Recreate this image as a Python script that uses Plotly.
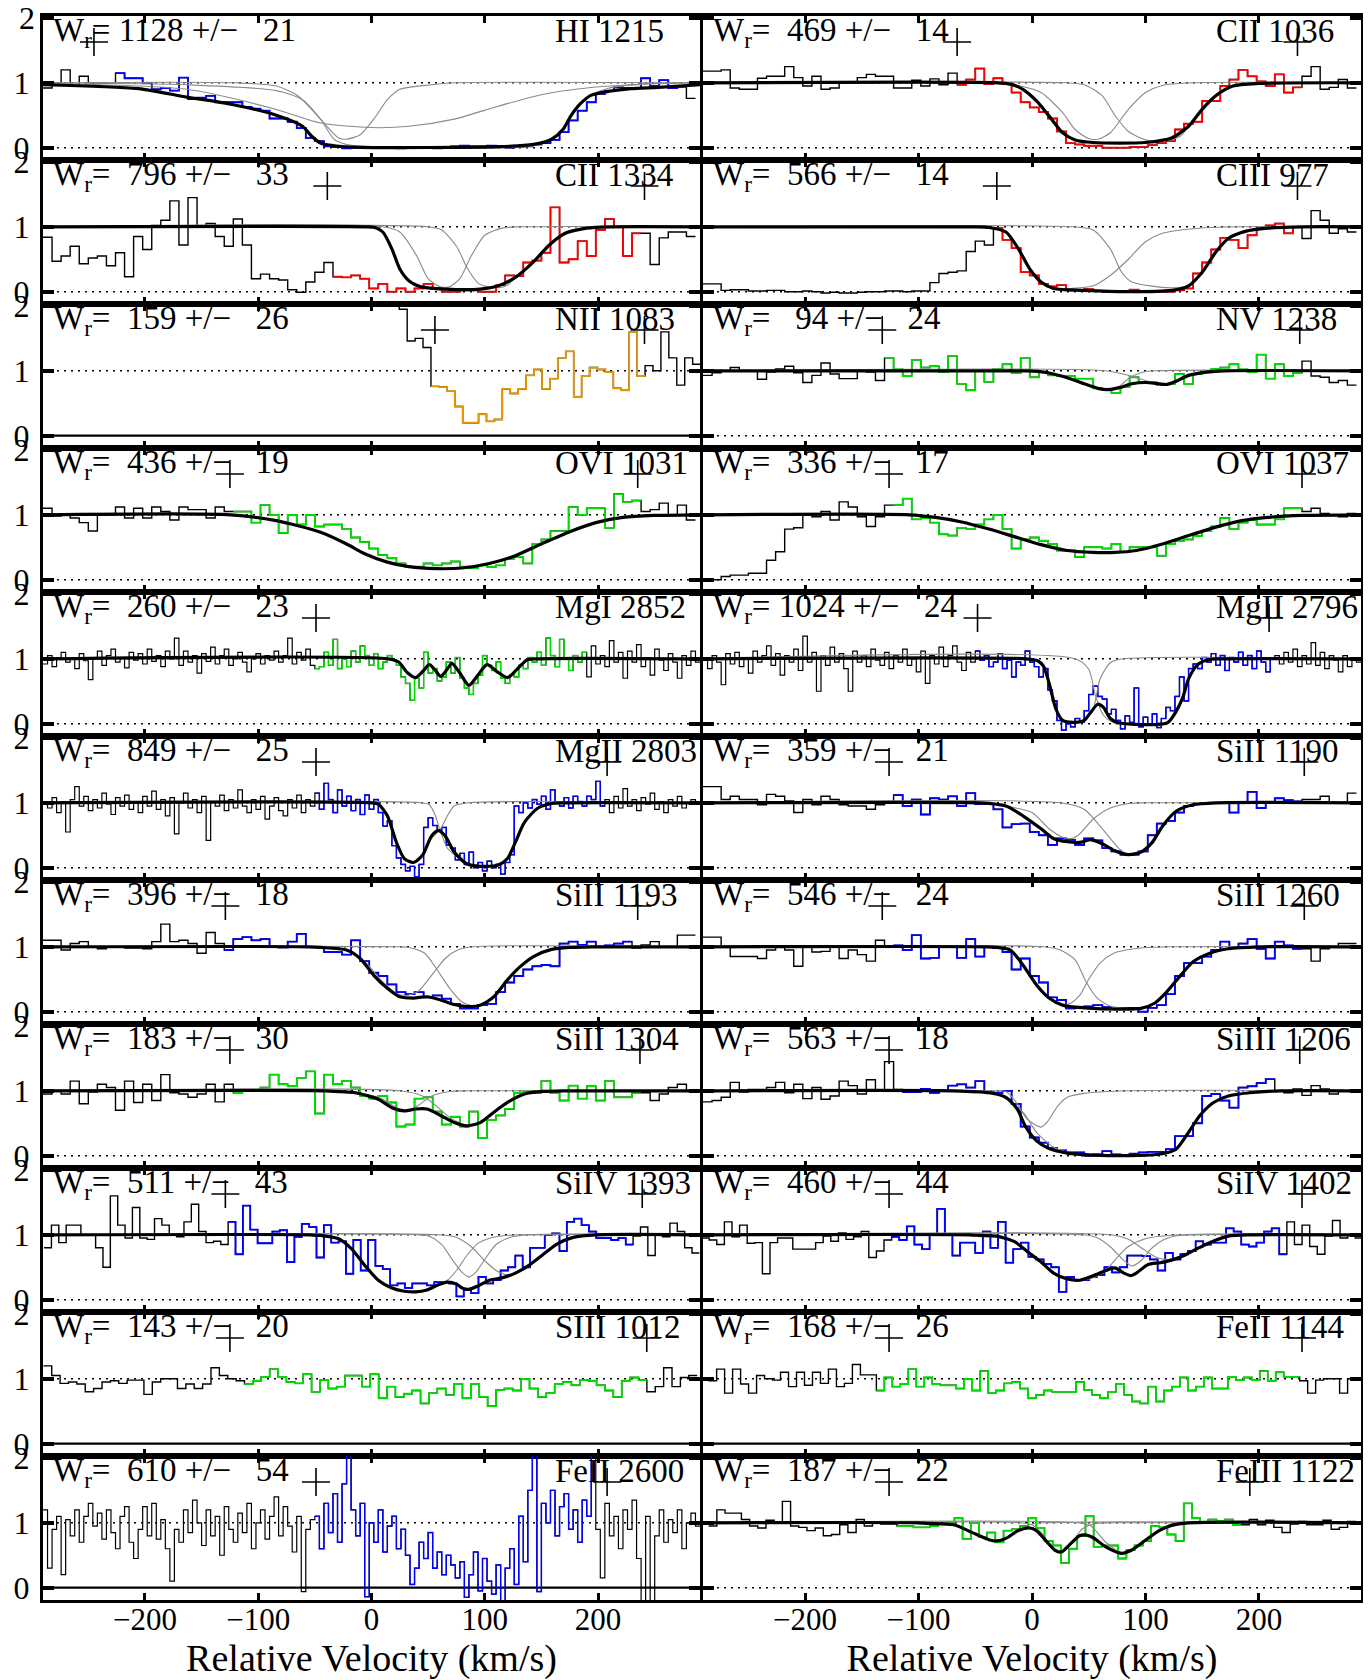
import plotly.graph_objects as go

FONT = "Liberation Serif, Times New Roman, serif"
BLUE = "#0000ff"; RED = "#ff0000"; GREEN = "#00dd00"; ORANGE = "#e69a00"; GRAY = "#8a8a8a"

V_RANGE = [-290, 290]
F_RANGE = [-0.19, 2.03]
TICK_V = [-200, -100, 0, 100, 200]
TICK_F = [0, 1, 2]
XTITLE = "Relative Velocity (km/s)"

# ---------------- panel data: (first bin centre, bin width) in km/s ----------------
hi1215_grid = (-286, 8)
hi1215_flux = [0.92,1.0,1.2,0.95,1.1,1.0,1.0,1.0, 1.15,1.07,1.07,1.0,0.9,0.92,0.88,1.08,
               0.75,0.77,0.8,0.7,0.7,0.7,0.63,0.6, 0.57,0.45,0.45,0.4,0.3,0.15,0.1,0.02,
               0.01,-0.01,0.0,0.0,0.0,0.01,0.0,-0.01, 0.0,0.01,0.0,-0.01,0.0,0.02,0.03,0.02,
               0.02,0.03,0.02,0.0,0.01,0.02,0.05,0.07, 0.12,0.24,0.42,0.57,0.7,0.83,0.88,0.93,
               0.92,0.92,1.07,0.95,1.04,0.92,0.94,0.76]
hi1215_fit = [[-290,0.97],[-206,0.91],[-163,0.78],[-124,0.67],[-84,0.5],[-61,0.33],[-53,0.18],[-45,0.07],
              [-33,0.03],[-10,0.005],[112,0.015],[143,0.05],[159,0.13],[169,0.28],[176,0.49],[184,0.67],
              [194,0.81],[210,0.87],[229,0.91],[253,0.93],[290,0.97]]
hi1215_comps = [
    [[-290,0.99],[-163,0.9],[-84,0.59],[-45,0.38],[0,0.31],[33,0.33],[73,0.44],[112,0.64],[151,0.82],[190,0.92],[229,0.97],[290,1.0]],
    [[-290,1],[-120,1],[-84,0.95],[-65,0.8],[-45,0.44],[-29,0.15],[-22,0.13],[-10,0.2],[2,0.44],[14,0.74],[25,0.9],[53,0.97],[73,1.0],[290,1]],
    [[-290,1],[-163,0.97],[-84,0.88],[-61,0.74],[-45,0.44],[-33,0.13],[-22,0.05],[-6,0.02],[140,0.02],[159,0.13],[169,0.28],[176,0.49],[184,0.67],[194,0.81],[210,0.92],[240,0.98],[290,1]],
]
hi1215_plus = [-245]

cii1036_grid = (-286, 8)
cii1036_flux = [1.18,1.18,1.2,0.92,0.9,0.9,1.07,1.1, 1.1,1.25,1.08,0.95,1.1,0.9,0.92,1.0,
                1.0,1.08,1.13,1.1,1.1,0.92,0.92,1.04, 0.95,1.06,0.97,1.15,0.97,1.05,1.22,0.98,
                1.07,0.98,0.85,0.7,0.62,0.55,0.45,0.25, 0.07,0.05,0.03,0.03,0.0,0.0,0.0,0.01,
                0.01,0.04,0.07,0.1,0.28,0.37,0.4,0.72, 0.72,0.95,1.05,1.2,1.1,1.02,0.95,1.13,
                0.85,0.93,1.1,1.25,0.9,0.93,1.05,0.92]
cii1036_fit = [[-290,1],[-30,1],[-19,0.98],[-8,0.9],[4,0.72],[15,0.49],[27,0.23],[38,0.12],[54,0.08],[77,0.07],
               [100,0.08],[123,0.15],[138,0.33],[150,0.59],[162,0.8],[177,0.95],[200,0.99],[290,1]]
cii1036_comps = [
    [[-290,1],[-31,1],[-10,0.95],[8,0.85],[27,0.54],[38,0.28],[50,0.14],[58,0.13],[69,0.23],[85,0.59],[100,0.85],[115,0.96],[142,1],[290,1]],
    [[-290,1],[30,1],[46,0.97],[62,0.8],[73,0.5],[85,0.25],[100,0.12],[115,0.1],[131,0.18],[142,0.44],[154,0.69],[169,0.9],[192,0.99],[290,1]],
]
cii1036_plus = [-66, 234]

cii1334_grid = (-286, 8)
cii1334_flux = [0.84,0.47,0.55,0.7,0.43,0.52,0.55,0.4, 0.6,0.23,0.85,0.65,1.02,1.1,1.4,0.72,
                1.45,1.0,1.05,0.85,0.7,1.12,0.72,0.2, 0.27,0.2,0.18,0.03,-0.01,0.15,0.3,0.45,
                0.23,0.22,0.25,0.2,0.05,0.12,0.0,0.05, 0.0,0.05,0.12,0.05,0.0,0.0,0.02,0.02,
                0.0,0.0,0.1,0.25,0.24,0.45,0.48,0.6, 1.3,0.45,0.5,0.78,0.55,0.95,1.12,1.0,
                0.55,0.9,0.9,0.42,0.83,0.92,0.92,0.85]
cii1334_fit = [[-290,1],[-5,1],[3,0.99],[10,0.92],[18,0.66],[25,0.35],[33,0.17],[45,0.07],[65,0.04],[96,0.04],
               [112,0.09],[127,0.22],[143,0.46],[157,0.72],[171,0.9],[190,0.98],[210,1],[290,1]]
cii1334_comps = [
    [[-290,1],[10,1],[25,0.92],[40,0.55],[50,0.2],[60,0.08],[68,0.07],[78,0.2],[88,0.55],[100,0.87],[115,0.98],[130,1],[290,1]],
    [[-290,1],[50,1],[62,0.95],[75,0.7],[85,0.35],[95,0.12],[110,0.06],[120,0.1],[127,0.22],[143,0.46],[157,0.72],[171,0.9],[190,0.98],[210,1],[290,1]],
]
cii1334_plus = [-39, 241]

ciii977_grid = (-286, 8)
ciii977_flux = [0.12,0.12,0.02,0.03,0.03,0.01,0.01,0.02, 0.02,0.0,0.0,0.01,0.0,-0.02,-0.01,-0.02,
                -0.02,-0.01,0.0,0.0,0.01,0.01,0.0,0.01, 0.01,0.14,0.28,0.3,0.32,0.62,0.78,0.72,
                0.98,0.8,0.67,0.3,0.25,0.12,0.08,0.1, 0.02,0.02,0.04,0.01,0.0,0.0,0.0,0.03,
                0.0,0.0,0.0,0.0,0.02,0.05,0.28,0.45, 0.65,0.83,0.8,0.67,0.87,0.98,1.02,1.05,
                0.9,1.0,0.82,1.25,1.1,0.9,0.97,0.92]
ciii977_fit = [[-290,1],[-50,1],[-38,0.99],[-23,0.92],[-12,0.66],[-2,0.35],[8,0.15],[19,0.05],[46,0.02],[85,0.0],
               [123,0.02],[138,0.09],[150,0.3],[162,0.61],[173,0.82],[188,0.93],[208,0.98],[238,1],[290,1]]
ciii977_comps = [
    [[-290,1],[35,1],[54,0.95],[69,0.66],[79,0.3],[88,0.15],[104,0.09],[123,0.06],[138,0.09],[150,0.3],[162,0.61],[173,0.82],[188,0.93],[208,0.98],[238,1],[290,1]],
    [[-290,1],[-50,1],[-38,0.99],[-23,0.92],[-12,0.66],[-2,0.35],[8,0.15],[19,0.05],[35,0.05],[54,0.09],[69,0.25],[85,0.5],[100,0.77],[115,0.9],[142,0.97],[181,1],[290,1]],
]
ciii977_plus = [-31, 234]

nii1083_grid = (21, 7)
nii1083_flux = [2.5,1.95,1.46,1.5,1.36,0.76,0.75,0.69,0.45,0.2,0.2,0.33,0.22,0.25,0.72,0.65,0.72,0.93,1.02,
                0.72,0.88,1.2,1.3,0.6,0.92,1.05,1.02,0.98,0.73,0.7,1.6,0.92,1.08,1.0,1.6,1.2,0.78,1.2,1.1]
nii1083_plus = [56, 241]

nv1238_grid = (-286, 8)
nv1238_flux = [0.93,0.97,1.0,1.05,1.0,1.0,0.87,0.98, 1.03,1.07,0.97,0.82,0.93,1.12,0.95,0.88,
               0.88,1.0,0.98,0.85,1.2,1.02,0.92,1.17, 1.05,1.07,0.98,1.23,0.8,0.7,1.0,0.83,
               1.03,1.1,0.97,1.2,0.9,0.98,0.93,0.92, 0.92,0.88,0.88,0.73,0.72,0.66,0.75,0.9,
               0.83,0.82,0.78,0.8,0.95,0.8,0.95,1.0, 1.03,1.05,1.1,1.02,0.98,1.25,0.88,1.1,
               0.92,0.97,1.15,0.92,0.9,0.82,0.85,0.78]
nv1238_fit = [[-290,1],[-5,1],[5,0.99],[19,0.95],[35,0.87],[46,0.8],[58,0.73],[67,0.71],[77,0.74],[88,0.8],[100,0.82],
              [112,0.8],[119,0.79],[127,0.84],[138,0.93],[154,0.98],[169,1],[290,1]]
nv1238_comps = [
    [[-290,1],[-5,1],[5,0.99],[19,0.95],[35,0.87],[46,0.8],[58,0.73],[67,0.71],[77,0.76],[85,0.88],[96,0.97],[108,1],[290,1]],
    [[-290,1],[65,1],[85,0.93],[100,0.85],[112,0.8],[119,0.79],[127,0.84],[138,0.93],[154,0.98],[169,1],[290,1]],
]
nv1238_plus = [-132, 236]

ovi1031_grid = (-286, 8)
ovi1031_flux = [1.1,0.98,1.0,0.95,0.88,0.75,1.0,1.0, 1.12,0.95,1.1,0.95,1.12,1.05,0.92,1.12,
                1.08,1.08,0.95,1.12,1.05,1.05,1.05,0.88, 1.15,1.0,0.72,1.0,0.85,1.0,0.82,0.85,
                0.85,0.78,0.65,0.58,0.48,0.38,0.33,0.25, 0.2,0.2,0.25,0.22,0.25,0.28,0.2,0.18,
                0.22,0.2,0.22,0.32,0.35,0.25,0.55,0.62, 0.75,0.75,1.12,1.0,1.1,1.1,0.8,1.32,
                1.2,1.22,1.05,1.08,1.18,1.0,1.15,0.92]
ovi1031_fit = [[-290,1],[-124,1],[-84,0.91],[-45,0.73],[-22,0.55],[-6,0.4],[14,0.27],[33,0.2],[57,0.17],[80,0.18],
               [104,0.25],[127,0.37],[151,0.56],[175,0.74],[198,0.88],[222,0.96],[249,0.99],[290,1]]
ovi1031_comps = []
ovi1031_plus = [-125, 235]

ovi1037_grid = (-286, 8)
ovi1037_flux = [0.0,0.0,0.05,0.07,0.07,0.1,0.1,0.3, 0.43,0.78,0.8,1.0,0.97,1.05,0.92,1.2,
                1.12,0.97,0.82,0.97,1.15,1.15,1.25,0.93, 0.95,0.88,0.7,0.68,0.8,0.78,0.85,0.93,
                1.0,0.78,0.48,0.62,0.65,0.6,0.55,0.45, 0.45,0.35,0.5,0.5,0.48,0.55,0.43,0.5,
                0.5,0.5,0.37,0.55,0.6,0.62,0.67,0.75, 0.82,0.95,0.78,0.88,0.92,0.85,0.85,0.93,
                1.1,1.1,1.05,1.1,1.02,1.0,0.97,1.02]
ovi1037_fit = [[-290,1],[-108,1],[-85,0.96],[-62,0.89],[-38,0.78],[-15,0.66],[8,0.54],[31,0.45],[54,0.42],[73,0.42],
               [92,0.45],[115,0.55],[138,0.68],[162,0.81],[185,0.91],[208,0.96],[238,0.99],[290,1]]
ovi1037_comps = []
ovi1037_plus = [-126, 238]

mgi2852_grid = (-288, 4)
mgi2852_flux = [0.92,1.05,0.88,1.02,1.1,0.95,1.0,0.85,1.08,0.97,
                0.68,1.02,1.12,0.9,1.05,1.15,0.95,1.02,0.86,1.1,
                0.98,1.08,0.92,1.15,0.96,1.05,0.88,1.12,1.0,1.32,
                0.9,1.12,0.95,1.05,0.78,1.08,0.96,1.18,0.92,1.05,
                1.15,0.9,1.0,1.1,0.95,0.8,1.0,1.08,0.92,1.05,
                0.98,1.12,0.95,1.05,1.32,0.92,1.1,0.98,1.15,0.9,
                0.85,0.88,1.1,0.9,1.3,0.85,1.0,0.88,1.12,0.95,
                1.2,1.05,0.9,1.08,0.85,0.95,1.05,0.98,0.9,0.72,
                0.62,0.36,0.7,0.55,1.1,0.78,0.85,0.66,0.72,0.95,
                0.78,1.02,0.7,0.55,0.45,0.62,0.75,1.05,0.9,0.82,
                0.95,0.7,0.62,0.75,0.72,0.9,0.85,1.02,0.95,1.1,
                0.9,1.32,1.05,0.88,1.3,1.0,0.82,1.05,0.95,1.1,
                0.72,1.2,0.92,1.05,0.88,1.28,0.95,1.1,0.7,1.12,
                0.95,1.22,0.88,1.02,0.75,1.15,0.98,0.82,1.08,0.95,
                0.7,1.05,0.9,1.12,0.95]
mgi2852_fit = [[-290,1],[15,1],[24,0.95],[32,0.78],[39,0.71],[45,0.8],[51,0.91],[56,0.83],[61,0.73],[66,0.82],
               [71,0.93],[78,0.78],[86,0.59],[94,0.75],[102,0.91],[111,0.8],[120,0.71],[128,0.83],[137,0.98],[145,1],[290,1]]
mgi2852_comps = []
mgi2852_plus = [-49]

mgii2796_grid = (-288, 4)
mgii2796_flux = [1.0,0.85,1.05,0.95,0.6,1.08,0.92,1.1,0.88,1.02,
                 0.78,1.12,0.95,1.05,1.2,0.9,1.08,0.75,1.05,0.95,
                 1.15,0.82,1.35,0.95,1.1,0.5,1.05,0.9,1.18,0.95,
                 1.08,0.85,0.5,1.12,0.95,1.05,0.88,1.15,0.98,0.9,
                 1.1,0.85,1.05,0.95,1.15,0.9,1.0,0.8,1.12,0.62,
                 1.05,0.92,1.18,0.88,1.05,1.2,0.95,0.82,1.1,0.95,
                 1.12,0.98,1.05,0.88,0.95,1.08,0.85,0.98,0.72,0.95,
                 0.9,1.12,0.95,0.88,0.72,0.85,0.52,0.35,0.05,-0.1,
                 0.0,-0.05,0.08,0.02,0.2,0.45,0.58,0.42,0.38,0.15,
                 0.22,0.05,-0.08,0.12,0.02,0.55,-0.05,0.1,0.0,0.15,
                 -0.06,0.08,0.25,0.2,0.42,0.72,0.35,0.85,0.92,0.85,
                 1.02,0.95,1.08,0.9,1.05,0.82,1.02,0.95,1.1,0.9,
                 1.05,0.85,1.12,0.95,0.8,1.0,1.05,0.92,1.1,0.95,
                 1.15,0.88,1.05,0.92,1.25,0.9,1.1,0.85,1.05,0.98,
                 0.8,1.05,0.88,1.0,0.95]
mgii2796_fit = [[-290,1],[-5,1],[5,0.97],[10,0.89],[15,0.63],[21,0.23],[27,0.05],[38,0.02],[46,0.05],[52,0.18],
                [58,0.3],[63,0.25],[69,0.08],[77,0.01],[119,0.01],[125,0.13],[133,0.41],[138,0.69],[146,0.91],
                [156,0.99],[165,1],[290,1]]
mgii2796_comps = [
    [[-290,1],[-5,1],[5,0.97],[10,0.89],[15,0.63],[21,0.23],[27,0.05],[38,0.02],[46,0.06],[54,0.23],[60,0.69],[69,0.94],[80,1],[290,1]],
    [[-290,1],[38,1],[50,0.84],[56,0.43],[63,0.13],[73,0.01],[119,0.01],[125,0.13],[133,0.41],[138,0.69],[146,0.91],[156,0.99],[165,1],[290,1]],
]
mgii2796_plus = [-48, 209]

mgii2803_grid = (-288, 4)
mgii2803_flux = [1.0,0.92,1.08,0.85,1.02,0.55,1.05,1.25,0.95,1.1,
                 0.88,1.05,0.92,1.15,0.98,0.82,1.08,0.95,1.12,0.9,
                 1.02,0.85,1.1,0.95,1.18,0.9,1.05,0.8,1.08,0.52,
                 1.0,1.15,0.92,1.05,0.85,1.1,0.42,1.02,0.95,1.12,
                 0.88,1.05,0.92,1.2,0.95,0.85,1.05,0.9,1.1,0.75,
                 0.95,1.08,0.88,0.8,1.05,0.92,1.12,0.85,1.05,0.95,
                 1.15,0.9,1.3,1.05,0.85,1.2,0.95,1.1,0.88,1.05,
                 0.82,1.12,0.9,1.05,0.85,0.64,0.72,0.34,0.15,0.05,
                 -0.05,0.02,-0.14,0.05,0.62,0.77,0.65,0.58,0.62,0.35,
                 0.3,0.12,0.22,0.05,0.24,0.0,0.08,-0.05,0.1,0.0,
                 0.05,-0.1,0.08,0.2,0.95,0.85,1.0,0.92,1.05,0.98,
                 1.1,0.9,1.2,1.0,0.95,1.08,0.92,1.1,1.02,0.95,
                 1.1,1.05,1.33,0.95,1.05,0.85,1.1,0.92,1.22,0.95,
                 1.05,0.88,1.08,0.98,1.15,0.9,1.02,0.85,1.05,0.95,
                 1.1,0.92,1.0,1.05,1.02]
mgii2803_fit = [[-290,1],[0,1],[6,0.98],[14,0.8],[22,0.39],[29,0.14],[37,0.08],[45,0.19],[53,0.49],[59,0.57],[65,0.49],
                [73,0.24],[84,0.06],[96,0.02],[112,0.04],[120,0.14],[127,0.39],[135,0.7],[147,0.92],[159,0.99],[170,1],[290,1]]
mgii2803_comps = [
    [[-290,1],[0,1],[6,0.98],[14,0.8],[22,0.39],[29,0.14],[37,0.08],[45,0.19],[53,0.45],[61,0.6],[67,0.8],[73,0.95],[85,1],[290,1]],
    [[-290,1],[45,1],[51,0.97],[56,0.82],[61,0.55],[67,0.3],[73,0.2],[84,0.06],[96,0.02],[112,0.04],[120,0.14],[127,0.39],[135,0.7],[147,0.92],[159,0.99],[170,1],[290,1]],
]
mgii2803_plus = [-49, 208]

siii1190_grid = (-286, 8)
siii1190_flux = [1.25,1.25,1.05,1.1,1.05,1.05,0.97,1.13, 1.1,1.03,0.85,1.05,0.97,1.1,1.05,0.97,
                 0.95,0.95,0.9,0.97,1.0,1.12,0.95,1.05, 0.82,1.07,1.05,1.1,0.95,1.15,0.98,0.98,
                 0.9,0.62,0.67,0.68,0.55,0.5,0.35,0.45, 0.43,0.35,0.45,0.42,0.3,0.25,0.2,0.2,
                 0.25,0.5,0.68,0.72,0.85,0.95,0.98,1.0, 1.0,1.0,0.85,1.0,1.17,0.92,1.0,1.07,
                 1.04,1.02,1.05,1.05,1.1,1.0,1.0,1.15]
siii1190_fit = [[-290,1],[-45,1],[-38,0.99],[-23,0.95],[-8,0.8],[8,0.6],[19,0.45],[31,0.4],[42,0.39],[52,0.43],
                [62,0.37],[73,0.26],[85,0.2],[96,0.24],[106,0.39],[115,0.64],[127,0.87],[142,0.97],[162,1],[290,1]]
siii1190_comps = [
    [[-290,1],[-45,1],[-38,0.99],[-23,0.95],[0,0.85],[15,0.6],[27,0.47],[35,0.45],[42,0.52],[54,0.75],[69,0.92],[85,0.99],[100,1],[290,1]],
    [[-290,1],[25,1],[46,0.9],[62,0.6],[77,0.29],[85,0.21],[96,0.24],[106,0.39],[115,0.64],[127,0.87],[142,0.97],[162,1],[290,1]],
]
siii1190_plus = [-126, 240]

siii1193_grid = (-286, 8)
siii1193_flux = [1.1,1.1,0.95,1.05,1.08,1.0,0.97,1.0, 1.0,0.98,0.98,0.97,1.08,1.35,1.08,1.1,
                 1.05,0.9,1.22,1.05,0.95,1.12,1.15,1.1, 1.12,1.0,0.99,1.08,1.2,1.0,1.0,0.92,
                 0.92,0.88,1.1,0.78,0.6,0.55,0.42,0.3, 0.27,0.3,0.22,0.25,0.2,0.12,0.05,0.05,
                 0.1,0.12,0.3,0.45,0.55,0.65,0.7,0.72, 0.7,1.05,1.08,1.03,1.08,1.0,1.02,1.05,
                 1.08,0.98,1.03,1.08,1.0,1.0,1.18,1.18]
siii1193_fit = [[-290,1],[-55,1],[-45,0.99],[-22,0.95],[-10,0.82],[2,0.56],[14,0.36],[25,0.23],[37,0.21],[49,0.23],
                [61,0.18],[73,0.11],[84,0.08],[96,0.1],[108,0.23],[120,0.49],[131,0.69],[143,0.85],[159,0.96],
                [175,0.99],[195,1],[290,1]]
siii1193_comps = [
    [[-290,1],[-55,1],[-45,0.99],[-22,0.95],[-6,0.77],[10,0.46],[22,0.28],[31,0.25],[41,0.31],[53,0.56],[65,0.82],[76,0.95],[90,1],[290,1]],
    [[-290,1],[25,1],[33,0.99],[47,0.9],[57,0.67],[69,0.36],[80,0.15],[90,0.09],[96,0.1],[108,0.23],[120,0.49],[131,0.69],[143,0.85],[159,0.96],[175,0.99],[195,1],[290,1]],
]
siii1193_plus = [-129, 235]

siii1260_grid = (-286, 8)
siii1260_flux = [1.15,1.15,1.0,0.85,0.85,0.85,0.82,0.95, 1.0,0.95,0.7,1.0,0.92,0.93,1.0,0.82,
                 0.95,0.88,0.78,1.1,1.0,1.02,0.95,1.18, 0.82,0.83,1.0,1.0,0.83,1.12,0.85,1.0,
                 0.98,0.92,0.65,0.82,0.55,0.45,0.22,0.18, 0.05,0.06,0.08,0.1,0.07,0.04,0.06,0.06,
                 0.0,0.06,0.1,0.27,0.55,0.75,0.75,0.85, 0.95,1.08,1.0,1.05,1.12,0.97,0.82,1.08,
                 1.02,0.97,0.97,0.78,0.97,1.0,1.05,1.05]
siii1260_fit = [[-290,1],[-40,1],[-31,0.99],[-19,0.95],[-8,0.72],[4,0.41],[15,0.21],[27,0.1],[46,0.06],[77,0.04],
                [96,0.05],[108,0.13],[119,0.31],[131,0.56],[142,0.77],[158,0.91],[173,0.97],[200,1],[290,1]]
siii1260_comps = [
    [[-290,1],[-40,1],[-31,0.99],[-19,0.95],[-8,0.72],[4,0.42],[15,0.22],[25,0.13],[33,0.12],[42,0.25],[50,0.5],[60,0.75],[72,0.9],[90,0.97],[120,1],[290,1]],
    [[-290,1],[10,1],[25,0.95],[38,0.8],[48,0.45],[58,0.2],[70,0.08],[85,0.05],[96,0.05],[108,0.13],[119,0.31],[131,0.56],[142,0.77],[158,0.91],[173,0.97],[200,1],[290,1]],
]
siii1260_plus = [-132, 240]

siii1304_grid = (-286, 8)
siii1304_flux = [0.95,1.0,0.95,1.15,0.8,0.98,1.1,1.05, 0.7,1.15,0.82,1.1,0.85,1.25,0.97,0.95,
                 0.9,0.95,1.1,0.83,1.1,0.97,1.0,1.0, 1.05,1.25,1.1,1.07,1.2,1.3,0.65,1.25,
                 1.1,1.15,1.05,0.92,0.88,0.92,0.82,0.45, 0.48,0.88,0.9,0.68,0.48,0.6,0.45,0.68,
                 0.27,0.55,0.62,0.72,0.97,1.0,0.97,1.15, 0.97,0.85,1.08,0.88,1.07,0.85,1.15,0.9,
                 0.9,0.97,0.97,0.85,0.95,1.05,1.1,1.0]
siii1304_fit = [[-290,1],[-40,1],[-33,0.99],[-14,0.97],[6,0.87],[18,0.74],[29,0.69],[39,0.72],[49,0.72],[61,0.62],
                [73,0.51],[84,0.46],[96,0.51],[108,0.67],[120,0.82],[135,0.95],[151,0.99],[170,1],[290,1]]
siii1304_comps = [
    [[-290,1],[-40,1],[-33,0.99],[6,0.9],[22,0.74],[31,0.69],[41,0.77],[53,0.92],[69,0.99],[85,1],[290,1]],
    [[-290,1],[25,1],[45,0.92],[57,0.77],[69,0.59],[80,0.49],[86,0.46],[96,0.51],[108,0.67],[120,0.82],[135,0.95],[151,0.99],[170,1],[290,1]],
]
siii1304_plus = [-125, 237]

siiii1206_grid = (-286, 8)
siiii1206_flux = [0.83,0.85,0.9,1.13,0.98,1.02,1.02,1.05, 1.13,0.97,1.1,0.88,1.05,0.87,0.92,1.15,
                  1.08,0.95,1.17,1.0,1.45,1.02,0.98,0.98, 1.03,0.97,1.0,1.08,1.1,1.05,1.15,0.98,
                  0.97,1.0,0.8,0.45,0.28,0.2,0.12,0.08, 0.05,0.05,0.0,0.02,0.07,0.02,0.01,0.03,
                  0.05,0.06,0.06,0.1,0.3,0.3,0.5,0.92, 0.95,0.85,0.74,1.05,1.07,1.12,1.18,1.0,
                  0.97,1.03,0.93,1.08,1.03,0.95,1.0,1.0]
siiii1206_fit = [[-290,1],[-69,1],[-38,0.97],[-23,0.9],[-13,0.72],[-6,0.46],[4,0.23],[15,0.11],[31,0.04],[54,0.01],
                 [85,0.0],[115,0.03],[127,0.1],[138,0.36],[148,0.62],[160,0.82],[173,0.92],[192,0.97],[219,1],[290,1]]
siiii1206_comps = [
    [[-290,1],[-30,1],[-23,0.99],[-15,0.85],[-4,0.56],[8,0.44],[13,0.51],[23,0.77],[31,0.9],[46,0.96],[85,1],[290,1]],
    [[-290,1],[-69,1],[-31,0.95],[-8,0.67],[4,0.36],[19,0.13],[35,0.04],[54,0.01],[85,0.0],[115,0.03],[127,0.1],[138,0.36],[148,0.62],[160,0.82],[173,0.92],[192,0.97],[219,1],[290,1]],
]
siiii1206_plus = [-126, 236]

siiv1393_grid = (-285.8, 6.5)
siiv1393_flux = [0.8,1.15,0.88,1.15,1.15,1.0,1.0,0.8,0.5,1.6,1.15,0.95,1.42,0.95,0.93,1.25,1.15,1.0,0.97,1.2,1.47,1.05,0.88,0.9,0.85,
                 1.2,0.7,1.45,1.08,0.87,0.87,1.05,1.07,0.58,0.97,1.17,1.12,0.65,1.15,0.88,0.9,0.4,0.92,0.45,0.92,
                 0.52,0.47,0.22,0.25,0.18,0.25,0.25,0.22,0.27,0.27,0.25,0.05,0.15,0.1,0.35,0.25,0.3,0.45,0.5,0.68,
                 0.5,0.8,0.8,1.0,1.02,0.75,1.2,1.25,1.15,1.05,0.95,0.95,0.92,0.95,0.85,
                 0.98,1.12,0.68,1.0,0.97,1.18,1.05,0.8,0.72]
siiv1393_fit = [[-290,1],[-55,1],[-45,0.99],[-29,0.94],[-18,0.79],[-6,0.53],[6,0.3],[18,0.18],[29,0.13],[39,0.12],[49,0.15],
                [59,0.23],[67,0.27],[75,0.24],[80,0.18],[86,0.16],[94,0.21],[104,0.3],[116,0.34],[127,0.41],[139,0.53],
                [151,0.69],[163,0.85],[178,0.96],[198,1],[290,1]]
siiv1393_comps = [
    [[-290,1],[-55,1],[-45,0.99],[-29,0.94],[-18,0.79],[-6,0.53],[6,0.3],[18,0.18],[29,0.13],[39,0.12],[49,0.15],[59,0.23],[67,0.3],[75,0.45],[85,0.7],[95,0.88],[110,0.97],[130,1],[290,1]],
    [[-290,1],[40,1],[52,0.97],[62,0.85],[72,0.6],[80,0.42],[86,0.35],[92,0.42],[100,0.62],[110,0.85],[122,0.96],[140,1],[290,1]],
    [[-290,1],[60,1],[75,0.96],[88,0.82],[100,0.6],[110,0.45],[120,0.38],[127,0.41],[139,0.53],[151,0.69],[163,0.85],[178,0.96],[198,1],[290,1]],
]
siiv1393_plus = [-129, 239]

siiv1402_grid = (-287.9, 6.7)
siiv1402_flux = [0.95,0.92,0.85,1.2,0.97,1.15,0.87,0.88,0.4,0.88,0.95,0.95,0.78,0.78,0.78,0.88,0.98,0.9,1.03,0.93,0.97,1.05,0.65,0.75,0.92,
                 0.97,0.92,1.13,0.85,0.78,1.0,1.4,1.0,0.68,0.88,0.88,0.72,1.05,0.8,1.2,0.57,0.78,0.88,0.66,0.62,
                 0.55,0.5,0.12,0.35,0.3,0.3,0.35,0.38,0.5,0.42,0.5,0.68,0.68,0.67,0.62,0.45,0.72,0.62,0.7,0.75,
                 0.9,0.85,0.88,0.88,1.1,1.05,0.85,0.82,0.88,1.05,1.1,0.7,
                 1.2,0.85,1.15,0.82,0.7,0.98,1.22,0.95,1.0,0.95]
siiv1402_fit = [[-290,1],[-55,1],[-46,0.99],[-31,0.98],[-15,0.89],[-4,0.74],[8,0.58],[19,0.41],[31,0.32],[42,0.3],[54,0.37],
                [65,0.45],[73,0.49],[81,0.41],[87,0.37],[92,0.41],[102,0.54],[113,0.57],[123,0.61],[135,0.69],[146,0.79],
                [158,0.89],[173,0.98],[192,1],[290,1]]
siiv1402_comps = [
    [[-290,1],[-55,1],[-46,0.99],[-31,0.98],[-15,0.89],[-4,0.74],[8,0.58],[19,0.41],[31,0.32],[42,0.3],[54,0.34],[65,0.45],[75,0.65],[85,0.82],[100,0.94],[120,0.99],[290,1]],
    [[-290,1],[45,1],[58,0.95],[70,0.8],[80,0.62],[88,0.52],[96,0.6],[106,0.8],[118,0.94],[135,1],[290,1]],
    [[-290,1],[70,1],[85,0.93],[98,0.78],[110,0.65],[120,0.62],[130,0.66],[146,0.79],[158,0.89],[173,0.98],[192,1],[290,1]],
]
siiv1402_plus = [-126, 238]

siii1012_grid = (-286, 7.4)
siii1012_flux = [1.2,1.05,0.93,0.95,0.92,0.8,0.85,0.95,0.97,0.93,0.98,0.98,0.76,0.95,1.0,1.0,0.85,0.92,0.85,0.92,1.17,1.05,1.0,0.97,
                 0.92,0.97,1.03,1.15,1.03,0.95,0.93,1.07,0.8,0.98,0.85,0.88,1.05,1.05,0.88,1.07,0.7,0.88,0.72,0.77,0.82,0.62,
                 0.78,0.85,0.75,0.92,0.7,0.92,0.72,0.58,0.83,0.85,0.82,1.0,0.85,0.72,0.78,0.92,0.95,0.9,0.98,0.97,0.9,0.82,
                 0.72,0.97,1.02,0.98,
                 0.8,0.88,1.17,0.88,1.02,1.05]
siii1012_plus = [-125, 243]

feii1144_grid = (-281.5, 7.04)
feii1144_flux = [0.97,1.15,0.78,1.15,0.92,0.78,1.05,1.0,0.98,1.1,0.88,1.1,0.9,1.1,0.93,1.15,0.88,0.93,1.22,1.06,1.06,
                 0.82,1.02,0.88,0.92,1.15,0.88,1.02,0.92,0.9,0.9,0.85,1.0,0.82,1.12,0.78,0.82,0.93,0.95,0.85,0.7,
                 0.75,0.82,0.8,0.8,0.8,0.95,0.83,0.75,0.7,0.8,0.92,0.75,0.65,0.62,0.88,0.65,0.82,0.88,1.02,0.82,
                 0.88,1.02,0.85,0.85,1.03,0.98,1.02,0.98,1.12,0.97,1.1,1.03,1.03,
                 0.97,0.78,0.98,1.0,1.0,0.78,1.0]
feii1144_plus = [-126, 238]

feii2600_grid = (-288, 4)
feii2600_flux = [1.2,0.3,0.9,1.1,0.2,1.05,0.8,1.2,0.7,1.1,
                 1.3,0.95,1.15,0.75,1.2,0.85,0.6,1.1,1.25,0.7,
                 0.45,0.9,1.25,0.8,1.3,0.75,1.05,0.6,0.1,0.9,
                 0.7,1.2,0.85,1.35,1.0,0.65,1.2,0.8,1.1,0.5,
                 1.25,0.9,0.7,1.15,0.85,1.3,0.6,1.0,1.2,0.75,
                 1.1,1.4,0.8,1.25,0.95,0.55,1.1,-0.06,0.9,1.05,
                 1.1,0.6,1.3,0.85,1.45,0.7,1.6,2.05,1.2,0.8,
                 1.3,-0.14,1.0,0.7,1.2,0.55,0.95,1.1,0.6,0.9,
                 0.5,0.05,0.3,0.7,0.45,0.85,0.3,0.55,0.2,0.5,
                 0.35,0.15,0.4,-0.15,0.2,0.55,-0.05,0.45,0.1,-0.1,
                 0.35,-0.2,0.3,0.6,0.05,1.1,0.4,1.5,2.05,-0.06,
                 1.3,1.0,1.5,0.8,1.25,1.45,0.9,1.2,0.7,1.35,
                 1.1,2.05,0.9,0.15,
                 1.3,0.8,1.1,0.6,1.2,0.9,1.35,0.45,-0.2,1.1,-0.2,0.8,1.2,0.7,1.05,0.85,1.2,0.6,1.0,1.15,0.95]
feii2600_plus = [-49, 208]

feiii1122_grid = (-281.4, 7.22)
feiii1122_flux = [0.95,1.2,1.15,1.15,1.05,0.95,0.92,1.04,1.0,1.33,0.95,0.93,0.88,0.92,0.8,0.82,0.97,0.85,1.05,0.95,1.0,0.98,0.98,
                  0.95,0.95,0.93,0.93,0.95,0.98,1.0,1.07,0.75,1.0,0.78,0.85,0.7,0.88,0.9,0.95,1.07,0.92,0.72,0.65,0.38,
                  0.6,0.8,1.1,0.63,0.65,0.65,0.45,0.58,0.65,0.72,0.95,0.93,0.82,0.72,1.3,1.07,1.0,1.05,1.03,1.05,0.97,
                  0.97,1.05,0.97,1.04,0.93,0.85,0.98,1.02,0.97,0.97,1.04,0.9,0.93,1.02]
feiii1122_fit = [[-290,1],[-100,1],[-92,0.99],[-69,0.97],[-54,0.86],[-38,0.74],[-31,0.72],[-23,0.76],[-12,0.88],[-2,0.92],
                 [4,0.88],[13,0.71],[20,0.58],[26,0.55],[33,0.66],[42,0.8],[48,0.81],[54,0.77],[65,0.63],[79,0.53],[88,0.58],
                 [100,0.73],[112,0.88],[123,0.96],[138,1],[290,1]]
feiii1122_comps = [
    [[-290,1],[-100,1],[-92,0.99],[-69,0.97],[-54,0.86],[-38,0.74],[-31,0.72],[-23,0.76],[-12,0.88],[-2,0.97],[10,1],[290,1]],
    [[-290,1],[-10,1],[0,0.97],[8,0.85],[18,0.62],[26,0.56],[34,0.66],[44,0.9],[56,0.99],[70,1],[290,1]],
    [[-290,1],[40,1],[52,0.95],[65,0.7],[79,0.54],[88,0.58],[100,0.73],[112,0.88],[123,0.96],[138,1],[290,1]],
]
feiii1122_plus = [-126, 192]

# (label, W_r, error, grid, flux, colour, coloured velocity span, fit, components, "+" marks)
PANELS = [
    ("HI 1215", 1128, 21, hi1215_grid, hi1215_flux, BLUE, (-227, 281), hi1215_fit, hi1215_comps, hi1215_plus),
    ("CII 1036", 469, 14, cii1036_grid, cii1036_flux, RED, (-67, 238), cii1036_fit, cii1036_comps, cii1036_plus),
    ("CII 1334", 796, 33, cii1334_grid, cii1334_flux, RED, (-37, 239), cii1334_fit, cii1334_comps, cii1334_plus),
    ("CIII 977", 566, 14, ciii977_grid, ciii977_flux, RED, (-35, 237), ciii977_fit, ciii977_comps, ciii977_plus),
    ("NII 1083", 159, 26, nii1083_grid, nii1083_flux, ORANGE, (52, 240), None, [], nii1083_plus),
    ("NV 1238", 94, 24, nv1238_grid, nv1238_flux, GREEN, (-131, 238), nv1238_fit, nv1238_comps, nv1238_plus),
    ("OVI 1031", 436, 19, ovi1031_grid, ovi1031_flux, GREEN, (-122, 236), ovi1031_fit, ovi1031_comps, ovi1031_plus),
    ("OVI 1037", 336, 17, ovi1037_grid, ovi1037_flux, GREEN, (-125, 237), ovi1037_fit, ovi1037_comps, ovi1037_plus),
    ("MgI 2852", 260, 23, mgi2852_grid, mgi2852_flux, GREEN, (-50, 190), mgi2852_fit, mgi2852_comps, mgi2852_plus),
    ("MgII 2796", 1024, 24, mgii2796_grid, mgii2796_flux, BLUE, (-50, 214), mgii2796_fit, mgii2796_comps, mgii2796_plus),
    ("MgII 2803", 849, 25, mgii2803_grid, mgii2803_flux, BLUE, (-50, 206), mgii2803_fit, mgii2803_comps, mgii2803_plus),
    ("SiII 1190", 359, 21, siii1190_grid, siii1190_flux, BLUE, (-125, 238), siii1190_fit, siii1190_comps, siii1190_plus),
    ("SiII 1193", 396, 18, siii1193_grid, siii1193_flux, BLUE, (-127, 233), siii1193_fit, siii1193_comps, siii1193_plus),
    ("SiII 1260", 546, 24, siii1260_grid, siii1260_flux, BLUE, (-125, 237), siii1260_fit, siii1260_comps, siii1260_plus),
    ("SiII 1304", 183, 30, siii1304_grid, siii1304_flux, GREEN, (-124, 237), siii1304_fit, siii1304_comps, siii1304_plus),
    ("SiIII 1206", 563, 18, siiii1206_grid, siiii1206_flux, BLUE, (-113, 210), siiii1206_fit, siiii1206_comps, siiii1206_plus),
    ("SiIV 1393", 511, 43, siiv1393_grid, siiv1393_flux, BLUE, (-125, 229), siiv1393_fit, siiv1393_comps, siiv1393_plus),
    ("SiIV 1402", 460, 44, siiv1402_grid, siiv1402_flux, BLUE, (-122, 223), siiv1402_fit, siiv1402_comps, siiv1402_plus),
    ("SIII 1012", 143, 20, siii1012_grid, siii1012_flux, GREEN, (-110, 240), None, [], siii1012_plus),
    ("FeII 1144", 168, 26, feii1144_grid, feii1144_flux, GREEN, (-135, 233), None, [], feii1144_plus),
    ("FeII 2600", 610, 54, feii2600_grid, feii2600_flux, BLUE, (-50, 198), None, [], feii2600_plus),
    ("FeIII 1122", 187, 22, feiii1122_grid, feiii1122_flux, GREEN, (-117, 182), feiii1122_fit, feiii1122_comps, feiii1122_plus),
]

W, H = 1371, 1680
COL_X = [(35, 692), (695, 1353)]
ROW_TOP, ROW_H = 8, 144


def step_xy(grid, flux, idx):
    v0, dv = grid
    xs = [v0 + dv * (i - 0.5) for i in idx]
    ys = [flux[i] for i in idx]
    xs.append(v0 + dv * (idx[-1] + 0.5))
    ys.append(flux[idx[-1]])
    return xs, ys


def wtext(w, e):
    s = "W<sub>r</sub>=" + f"{w:5d}" + " +/\u2212" + f"{e:5d}"
    return s.replace(" ", "\u00a0")


fig = go.Figure()
layout = dict(width=W, height=H, margin=dict(l=0, r=0, t=0, b=0, pad=0), autosize=False,
              paper_bgcolor="white", plot_bgcolor="white", showlegend=False,
              font=dict(family=FONT, color="black", size=32))
annotations = []

for k, (label, wr, err, grid, flux, colour, span, fit, comps, plus) in enumerate(PANELS):
    row, col = divmod(k, 2)
    sfx = "" if k == 0 else str(k + 1)
    xa, ya = "x" + sfx, "y" + sfx
    top = ROW_TOP + ROW_H * row
    x0, x1 = COL_X[col]
    bottom_row = row == len(PANELS) // 2 - 1
    layout["xaxis" + sfx] = dict(
        domain=[x0 / W, x1 / W], range=V_RANGE, anchor=ya, showgrid=False, zeroline=False, automargin=False,
        showline=True, linecolor="black", linewidth=3, mirror="ticks",
        ticks="inside", tickvals=TICK_V, ticklen=7, tickwidth=3, tickcolor="black",
        showticklabels=bottom_row, tickfont=dict(size=31, family=FONT), ticklabelstandoff=-10,
        title=dict(text=XTITLE if bottom_row else "", font=dict(size=38, family=FONT), standoff=4),
    )
    layout["yaxis" + sfx] = dict(
        domain=[1 - (top + ROW_H) / H, 1 - top / H], range=F_RANGE, anchor=xa, showgrid=False,
        zeroline=False, automargin=False, showline=True, linecolor="black", linewidth=3, mirror="ticks",
        ticks="inside", tickvals=TICK_F, ticklen=11, tickwidth=3.5, tickcolor="black",
        showticklabels=(col == 0), tickfont=dict(size=32, family=FONT), ticklabelstandoff=4,
    )
    # reference levels
    fig.add_trace(go.Scatter(x=V_RANGE, y=[1, 1], xaxis=xa, yaxis=ya, mode="lines",
                             line=dict(color="black", width=1.5, dash="2px,5px"), hoverinfo="skip"))
    if fit is None:
        fig.add_trace(go.Scatter(x=V_RANGE, y=[0, 0], xaxis=xa, yaxis=ya, mode="lines",
                                 line=dict(color="black", width=2.2), hoverinfo="skip"))
    else:
        fig.add_trace(go.Scatter(x=V_RANGE, y=[0, 0], xaxis=xa, yaxis=ya, mode="lines",
                                 line=dict(color="black", width=1.5, dash="2px,5px"), hoverinfo="skip"))
    # full spectrum (black)
    fine = grid[1] <= 4
    xs, ys = step_xy(grid, flux, list(range(len(flux))))
    fig.add_trace(go.Scatter(x=xs, y=ys, xaxis=xa, yaxis=ya, mode="lines", line_shape="hv",
                             line=dict(color="black", width=1.2 if fine else 1.4), hoverinfo="skip"))
    # coloured region
    v0, dv = grid
    idx = [i for i in range(len(flux)) if span[0] <= v0 + dv * i <= span[1]]
    if idx:
        xs, ys = step_xy(grid, flux, idx)
        fig.add_trace(go.Scatter(x=xs, y=ys, xaxis=xa, yaxis=ya, mode="lines", line_shape="hv",
                                 line=dict(color=colour, width=1.4 if fine else 1.8), hoverinfo="skip"))
    # components and fit
    for c in comps:
        fig.add_trace(go.Scatter(x=[p[0] for p in c], y=[p[1] for p in c], xaxis=xa, yaxis=ya,
                                 mode="lines", line=dict(color=GRAY, width=1.1, shape="spline", smoothing=0.7),
                                 hoverinfo="skip"))
    if fit is not None:
        fig.add_trace(go.Scatter(x=[p[0] for p in fit], y=[p[1] for p in fit], xaxis=xa, yaxis=ya,
                                 mode="lines", line=dict(color="black", width=3.2, shape="spline", smoothing=0.7),
                                 hoverinfo="skip"))
    # "+" marks
    fig.add_trace(go.Scatter(x=plus, y=[1.63] * len(plus), xaxis=xa, yaxis=ya, mode="markers",
                             marker=dict(symbol="cross-thin", size=20, color="black",
                                         line=dict(color="black", width=1.6)),
                             hoverinfo="skip", cliponaxis=False))
    annotations.append(dict(x=-283, y=1.77, xref=xa, yref=ya, text=wtext(wr, err), showarrow=False,
                            xanchor="left", yanchor="middle", font=dict(size=33, family=FONT, color="black")))
    annotations.append(dict(x=160, y=1.80, xref=xa, yref=ya, text=label, showarrow=False,
                            xanchor="left", yanchor="middle", font=dict(size=33, family=FONT, color="black")))

# the topmost "2" tick label (partly cut by the page edge, as in the original)
annotations.append(dict(x=COL_X[0][0] / W, xref="paper", y=2, yref="y", text="2", showarrow=False,
                        xanchor="right", yanchor="middle", xshift=-6, font=dict(size=32, family=FONT, color="black")))

layout["annotations"] = annotations
fig.update_layout(**layout)
fig.write_html("out.html")
